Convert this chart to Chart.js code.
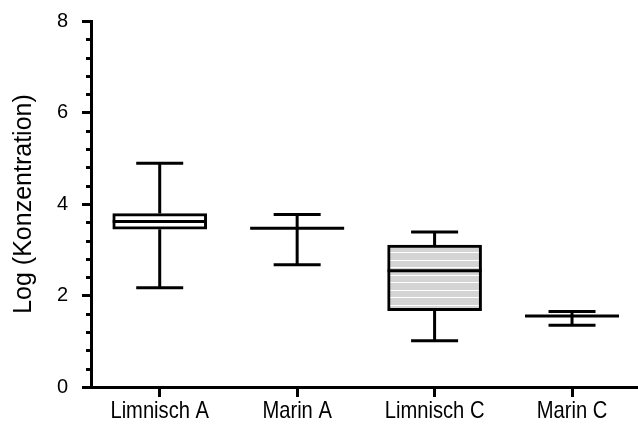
<!DOCTYPE html>
<html>
<head>
<meta charset="utf-8">
<script src="https://cdn.jsdelivr.net/npm/chart.js@4/dist/chart.umd.min.js"></script>
<style>
  html, body { margin: 0; padding: 0; background: #fff; overflow: hidden; }
  #wrap { width: 638px; height: 424px; position: relative; }
</style>
</head>
<body>
<div id="wrap"><canvas id="chart"></canvas></div>
<script>
// Box-plot summaries per group (log concentration)
const categories = ['Limnisch A', 'Marin A', 'Limnisch C', 'Marin C'];
const whiskerMin = [2.17, 2.67, 1.01, 1.35];
const quartile1  = [3.45, 3.47, 1.67, 1.55];
const medians    = [3.62, 3.47, 2.54, 1.55];
const quartile3  = [3.79, 3.47, 3.10, 1.55];
const whiskerMax = [4.89, 3.77, 3.39, 1.65];
const yTicks = [0, 2, 4, 6, 8];
const yMinorStep = 0.4;

// Grey fill with thin white horizontal stripes
function stripePattern() {
  const t = document.createElement('canvas');
  t.width = 4; t.height = 15;
  const g = t.getContext('2d');
  g.fillStyle = '#d4d4d4';
  g.fillRect(0, 0, 4, 15);
  g.fillStyle = '#ffffff';
  g.fillRect(0, 5, 4, 1);
  g.fillRect(0, 12, 4, 1);
  return g.createPattern(t, 'repeat');
}
const ctx = document.getElementById('chart').getContext('2d');
const boxFills = ['#ffffff', '#ffffff', stripePattern(), '#ffffff'];

const LW = 3;
const BOX_W = 94;
const CAP_W = 47;
const X_TICK_LEN = 10;
const REGULAR = "'Liberation Sans', Arial, sans-serif";
const LABEL_SIZE = 24;
const LABEL_CONDENSE = 0.84;   // condensed face for the category labels

const boxPlotLines = {
  id: 'boxPlotLines',
  beforeDatasetsDraw(chart) {
    const { ctx, scales: { x, y } } = chart;
    ctx.save();
    ctx.strokeStyle = '#000';
    ctx.lineWidth = LW;
    ctx.lineCap = 'butt';
    categories.forEach((c, i) => {
      const px = x.getPixelForValue(i + 1);
      ctx.beginPath();
      ctx.moveTo(px, y.getPixelForValue(whiskerMax[i]));
      ctx.lineTo(px, y.getPixelForValue(quartile3[i]));
      ctx.moveTo(px, y.getPixelForValue(quartile1[i]));
      ctx.lineTo(px, y.getPixelForValue(whiskerMin[i]));
      ctx.stroke();
    });
    ctx.restore();
  },
  afterDatasetsDraw(chart) {
    const { ctx, scales: { x, y } } = chart;
    ctx.save();
    ctx.strokeStyle = '#000';
    ctx.lineWidth = LW;
    ctx.lineCap = 'butt';
    categories.forEach((c, i) => {
      const px = x.getPixelForValue(i + 1);
      ctx.beginPath();
      [whiskerMax[i], whiskerMin[i]].forEach(v => {
        const py = y.getPixelForValue(v);
        ctx.moveTo(px - CAP_W / 2, py);
        ctx.lineTo(px + CAP_W / 2, py);
      });
      const pm = y.getPixelForValue(medians[i]);
      ctx.moveTo(px - BOX_W / 2, pm);
      ctx.lineTo(px + BOX_W / 2, pm);
      ctx.stroke();
    });
    ctx.restore();
  },
  afterDraw(chart) {
    const { ctx, scales: { x, y } } = chart;
    const { left, bottom } = chart.chartArea;
    // minor ticks on the value axis
    ctx.save();
    ctx.strokeStyle = '#000';
    ctx.lineWidth = LW;
    ctx.beginPath();
    for (let k = 0; k * yMinorStep <= y.max + 1e-9; k++) {
      const v = +(k * yMinorStep).toFixed(6);
      if (yTicks.includes(v)) continue;
      const py = Math.round(y.getPixelForValue(v)) + 0.5;
      ctx.moveTo(left - 5, py);
      ctx.lineTo(left, py);
    }
    ctx.stroke();
    // category labels in a condensed face
    ctx.fillStyle = '#000';
    ctx.font = `${LABEL_SIZE}px ${REGULAR}`;
    ctx.textAlign = 'center';
    ctx.textBaseline = 'top';
    x.ticks.forEach(t => {
      const px = x.getPixelForValue(t.value);
      ctx.save();
      ctx.translate(px, bottom + X_TICK_LEN + 2);
      ctx.scale(LABEL_CONDENSE, 1);
      ctx.fillText(categories[t.value - 1], 0, 0);
      ctx.restore();
    });
    ctx.restore();
  }
};

new Chart(ctx, {
  type: 'bar',
  data: {
    datasets: [{
      data: categories.map((c, i) => ({
        x: i + 1,
        y: quartile3[i] > quartile1[i] ? [quartile1[i], quartile3[i]] : null
      })),
      backgroundColor: boxFills,
      borderColor: '#000',
      borderWidth: LW,
      borderSkipped: false,
      barThickness: BOX_W
    }]
  },
  options: {
    responsive: true,
    maintainAspectRatio: false,
    animation: false,
    events: [],
    layout: { padding: { top: 21, right: 0, bottom: 0, left: 0 } },
    plugins: { legend: { display: false }, tooltip: { enabled: false } },
    scales: {
      x: {
        type: 'linear',
        offset: false,
        min: 0.5,
        max: 4.48,
        afterBuildTicks: s => { s.ticks = categories.map((c, i) => ({ value: i + 1 })); },
        afterFit: s => { s.height = 37; s.paddingLeft = 0; s.paddingRight = 0; },
        ticks: { display: false },
        grid: { offset: false, drawOnChartArea: false, drawTicks: true, tickLength: X_TICK_LEN, tickWidth: LW, tickColor: '#000' },
        border: { display: true, color: '#000', width: LW }
      },
      y: {
        min: 0,
        max: 8,
        afterBuildTicks: s => { s.ticks = yTicks.map(v => ({ value: v })); },
        afterFit: s => { s.width = 91; s.paddingTop = 0; s.paddingBottom = 0; },
        ticks: {
          padding: 14,
          color: '#000',
          font: { family: REGULAR, size: 20 }
        },
        grid: { drawOnChartArea: false, drawTicks: true, tickLength: 9, tickWidth: LW, tickColor: '#000' },
        border: { display: true, color: '#000', width: LW },
        title: {
          display: true,
          text: 'Log (Konzentration)',
          color: '#000',
          padding: { top: 9, bottom: 0 },
          font: { family: REGULAR, size: 25 }
        }
      }
    }
  },
  plugins: [boxPlotLines]
});
</script>
</body>
</html>
